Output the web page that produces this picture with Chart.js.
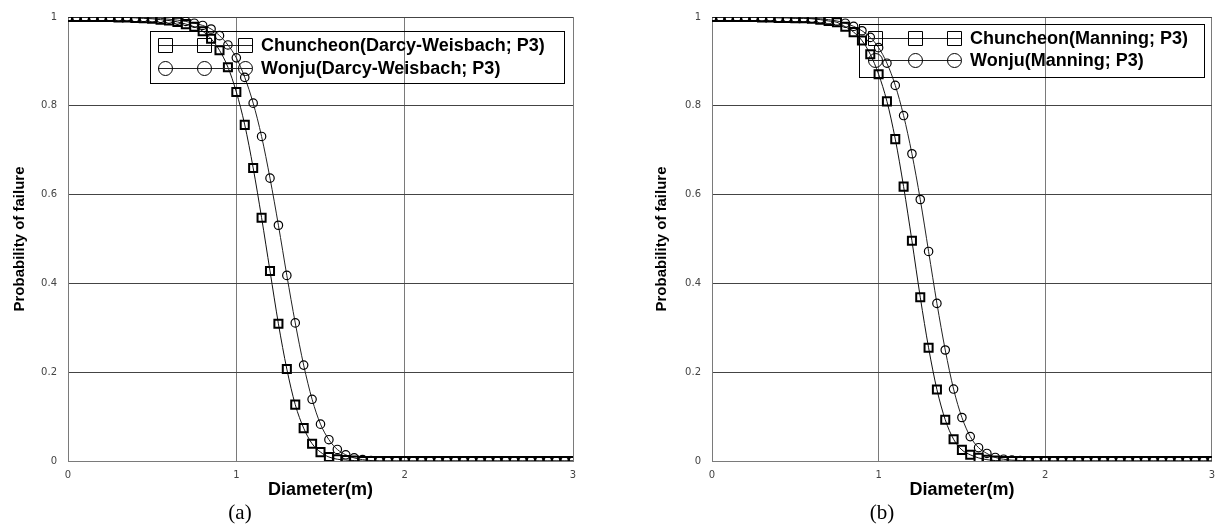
<!DOCTYPE html>
<html>
<head>
<meta charset="utf-8">
<script src="https://cdn.jsdelivr.net/npm/chart.js@4.4.1/dist/chart.umd.min.js"></script>
<style>
  html, body { margin: 0; padding: 0; background: #fff; }
  body { width: 1223px; height: 528px; position: relative; overflow: hidden; }
  canvas { position: absolute; top: 0; }
  #cA { left: 0; }
  #cB { left: 640px; }
  .cap { position: absolute; top: 500px; font-family: "Liberation Serif", "DejaVu Serif", serif; font-size: 21px; color: #000; transform: translateX(-50%); }
</style>
</head>
<body>
<canvas id="cA" width="611" height="528"></canvas>
<canvas id="cB" width="583" height="528"></canvas>
<div class="cap" style="left:240px">(a)</div>
<div class="cap" style="left:882px">(b)</div>
<script>
// ---------- DATA ----------
const diameters = [0.00,0.05,0.10,0.15,0.20,0.25,0.30,0.35,0.40,0.45,
  0.50,0.55,0.60,0.65,0.70,0.75,0.80,0.85,0.90,0.95,
  1.00,1.05,1.10,1.15,1.20,1.25,1.30,1.35,1.40,1.45,
  1.50,1.55,1.60,1.65,1.70,1.75,1.80,1.85,1.90,1.95,
  2.00,2.05,2.10,2.15,2.20,2.25,2.30,2.35,2.40,2.45,
  2.50,2.55,2.60,2.65,2.70,2.75,2.80,2.85,2.90,2.95,3.00];

const chuncheonDW = [1,1,1,1,1,1,0.999,0.999,0.998,0.997,
  0.996,0.994,0.992,0.989,0.984,0.978,0.968,0.951,0.925,0.887,
  0.831,0.757,0.660,0.548,0.428,0.309,0.207,0.127,0.074,0.039,
  0.020,0.009,0.004,0.002,0.001,0,0,0,0,0,
  0,0,0,0,0,0,0,0,0,0,
  0,0,0,0,0,0,0,0,0,0,0];

const wonjuDW = [1,1,1,1,1,1,1,1,0.999,0.999,
  0.998,0.997,0.995,0.993,0.990,0.986,0.981,0.973,0.958,0.937,
  0.908,0.864,0.806,0.731,0.637,0.531,0.418,0.311,0.216,0.139,
  0.083,0.048,0.026,0.014,0.007,0.003,0.001,0,0,0,
  0,0,0,0,0,0,0,0,0,0,
  0,0,0,0,0,0,0,0,0,0,0];

const chuncheonMan = [1,1,1,1,1,1,0.999,0.999,0.998,0.998,
  0.997,0.997,0.996,0.994,0.991,0.988,0.978,0.966,0.947,0.916,
  0.871,0.810,0.725,0.618,0.496,0.369,0.255,0.161,0.093,0.049,
  0.025,0.014,0.007,0.003,0.001,0,0,0,0,0,
  0,0,0,0,0,0,0,0,0,0,
  0,0,0,0,0,0,0,0,0,0,0];

const wonjuMan = [1,1,1,1,1,1,1,1,0.999,0.999,
  0.998,0.998,0.997,0.996,0.994,0.991,0.986,0.979,0.969,0.954,
  0.931,0.896,0.846,0.778,0.692,0.589,0.472,0.355,0.250,0.162,
  0.098,0.055,0.030,0.017,0.008,0.004,0.002,0.001,0,0,
  0,0,0,0,0,0,0,0,0,0,
  0,0,0,0,0,0,0,0,0,0,0];

const namesA = ['Chuncheon(Darcy-Weisbach; P3)', 'Wonju(Darcy-Weisbach; P3)'];
const namesB = ['Chuncheon(Manning; P3)', 'Wonju(Manning; P3)'];
const xTickLabels = ['0', '1', '2', '3'];
const yTickLabels = ['0', '0.2', '0.4', '0.6', '0.8', '1'];
const xTitle = 'Diameter(m)';
const yTitle = 'Probability of failure';

// ---------- RENDERING ----------
function pts(vals) { return diameters.map((d, i) => ({ x: d, y: vals[i] })); }

const boxLegend = {
  id: 'boxLegend',
  afterDatasetsDraw(chart, args, o) {
    const ctx = chart.ctx;
    ctx.save();
    ctx.strokeStyle = '#000';
    ctx.lineWidth = 1;
    ctx.strokeRect(o.x + 0.5, o.y + 0.5, o.w, o.h);
    chart.data.datasets.forEach((ds, i) => {
      const y = o.rows[i];
      ctx.strokeStyle = '#222';
      ctx.beginPath();
      ctx.moveTo(o.marks[0] - 7, y + 0.5);
      ctx.lineTo(o.marks[o.marks.length - 1] + 7, y + 0.5);
      ctx.stroke();
      ctx.strokeStyle = '#000';
      o.marks.forEach(mx => {
        ctx.beginPath();
        if (ds.pointStyle === 'rect') {
          ctx.rect(mx - 7 + 0.5, y - 7 + 0.5, 14, 14);
        } else {
          ctx.ellipse(mx + 0.5, y + 0.5, 7, 7, 0, 0, Math.PI * 2);
        }
        ctx.stroke();
      });
      ctx.fillStyle = '#000';
      ctx.font = 'bold 18px "Liberation Sans", Arial, sans-serif';
      ctx.textBaseline = 'middle';
      ctx.textAlign = 'left';
      ctx.fillText(ds.label, o.tx, y + 1);
    });
    ctx.restore();
  }
};

function makeChart(id, s1, s2, names, yw, pad, legendOpts) {
  return new Chart(document.getElementById(id), {
    type: 'line',
    data: {
      datasets: [
        { label: names[0], data: pts(s1), borderColor: '#111', borderWidth: 1,
          pointStyle: 'rect', pointRadius: 5.7, pointBorderWidth: 2,
          pointBorderColor: '#000', pointBackgroundColor: 'rgba(0,0,0,0)',
          cubicInterpolationMode: 'monotone', fill: false },
        { label: names[1], data: pts(s2), borderColor: '#222', borderWidth: 1,
          pointStyle: 'circle', pointRadius: 4.2, pointBorderWidth: 1.2,
          pointBorderColor: '#000', pointBackgroundColor: 'rgba(0,0,0,0)',
          cubicInterpolationMode: 'monotone', fill: false }
      ]
    },
    options: {
      responsive: false,
      animation: false,
      devicePixelRatio: 1,
      layout: { padding: pad },
      plugins: { legend: { display: false }, tooltip: { enabled: false }, boxLegend: legendOpts },
      scales: {
        x: {
          type: 'linear', min: 0, max: 3,
          afterFit: s => { s.height = 40; },
          afterBuildTicks: s => { s.ticks = xTickLabels.map((t, i) => ({ value: i })); },
          ticks: { callback: (v, i) => xTickLabels[i], padding: 8, color: '#444',
                   font: { family: '"DejaVu Sans", sans-serif', size: 10 } },
          grid: { color: '#7a7a7a', drawTicks: false, lineWidth: 1 },
          border: { color: '#7a7a7a' },
          title: { display: true, text: xTitle, color: '#000', padding: { top: 0, bottom: 0 },
                   font: { family: '"Liberation Sans", Arial, sans-serif', size: 18, weight: 'bold', lineHeight: 1.2 } }
        },
        y: {
          type: 'linear', min: 0, max: 1,
          afterFit: s => { s.width = yw; },
          afterBuildTicks: s => { s.ticks = yTickLabels.map((t, i) => ({ value: i * 0.2 })); },
          ticks: { callback: (v, i) => yTickLabels[i], padding: 11, color: '#444',
                   font: { family: '"DejaVu Sans", sans-serif', size: 10 } },
          grid: { color: '#444', drawTicks: false, lineWidth: 1 },
          border: { color: '#7a7a7a' },
          title: { display: true, text: yTitle, color: '#000', padding: { top: yw === 68 ? 11 : 13, bottom: 0 },
                   font: { family: '"Liberation Sans", Arial, sans-serif', size: 15, weight: 'bold', lineHeight: 1.2 } }
        }
      }
    },
    plugins: [boxLegend]
  });
}

makeChart('cA', chuncheonDW, wonjuDW, namesA, 68,
  { left: 0, top: 14, right: 38, bottom: 27 },
  { x: 150, y: 31, w: 414, h: 52, rows: [45, 68], marks: [165, 204, 245], tx: 261 });

makeChart('cB', chuncheonMan, wonjuMan, namesB, 72,
  { left: 0, top: 14, right: 8, bottom: 27 },
  { x: 219, y: 24, w: 345, h: 53, rows: [38, 60], marks: [235, 275, 314], tx: 330 });
</script>
</body>
</html>
